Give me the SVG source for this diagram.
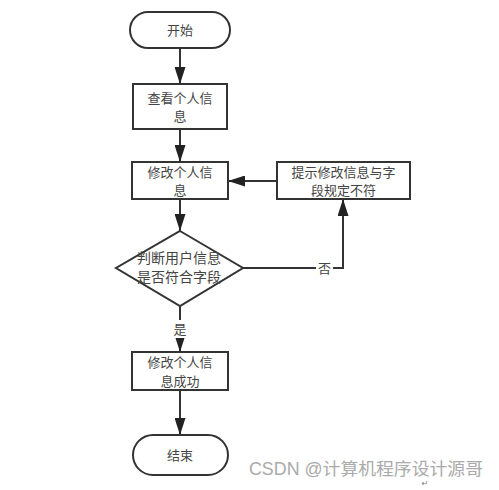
<svg xmlns="http://www.w3.org/2000/svg" width="499" height="490" viewBox="0 0 499 490">
<defs>
<marker id="arr" markerWidth="17" markerHeight="11" refX="17" refY="5.5" orient="auto" markerUnits="userSpaceOnUse">
<path d="M0,0 L17,5.5 L0,11 Z" fill="#222"/>
</marker>
</defs>
<style>
.shape{fill:#fff;stroke:#333;stroke-width:2}
.t{font-family:"Noto Sans CJK SC","Noto Sans",sans-serif;font-size:13px;fill:#444;text-anchor:middle}
.td{font-size:14px}
.conn{fill:none;stroke:#333;stroke-width:2}
.wm{font-family:"Liberation Sans","Noto Sans CJK SC",sans-serif;font-size:17.5px;fill:#aaa}
</style>
<rect width="499" height="490" fill="#fff"/>
<g id="connectors">
<line class="conn" x1="180" y1="48" x2="180" y2="84" marker-end="url(#arr)"/>
<line class="conn" x1="180" y1="129" x2="180" y2="162" marker-end="url(#arr)"/>
<line class="conn" x1="180" y1="199" x2="180" y2="231" marker-end="url(#arr)"/>
<line class="conn" x1="180" y1="306" x2="180" y2="352" marker-end="url(#arr)"/>
<line class="conn" x1="180" y1="390" x2="180" y2="435" marker-end="url(#arr)"/>
<line class="conn" x1="277" y1="181" x2="228" y2="181" marker-end="url(#arr)"/>
<polyline class="conn" points="243,268 343,268 343,199" marker-end="url(#arr)"/>
<rect x="172" y="320" width="16" height="18" fill="#fff"/>
<text class="t" x="180" y="334">是</text>
<rect x="316" y="259" width="17" height="18" fill="#fff"/>
<text class="t" x="324.5" y="273">否</text>
</g>
<g id="start">
<rect class="shape" x="130" y="12" width="100" height="36" rx="18"/>
<text class="t" x="180" y="35">开始</text>
</g>
<g id="view">
<rect class="shape" x="133" y="84" width="94" height="45"/>
<text class="t" x="180" y="103">查看个人信</text>
<text class="t" x="180" y="121">息</text>
</g>
<g id="modify">
<rect class="shape" x="132" y="162" width="96" height="37"/>
<text class="t" x="180" y="177">修改个人信</text>
<text class="t" x="180" y="195">息</text>
</g>
<g id="hint">
<rect class="shape" x="277" y="162" width="133" height="37"/>
<text class="t" x="343.5" y="177">提示修改信息与字</text>
<text class="t" x="343.5" y="195">段规定不符</text>
</g>
<g id="decide">
<polygon class="shape" points="180,231 243,268 180,306 116,268"/>
<text class="t td" x="179" y="263">判断用户信息</text>
<text class="t td" x="179" y="282">是否符合字段</text>
</g>
<g id="success">
<rect class="shape" x="132" y="352" width="96" height="38"/>
<text class="t" x="180" y="367">修改个人信</text>
<text class="t" x="180" y="386">息成功</text>
</g>
<g id="end">
<rect class="shape" x="133" y="435" width="95" height="40" rx="20"/>
<text class="t" x="180" y="460">结束</text>
</g>
<text class="wm" x="249" y="475" textLength="234" lengthAdjust="spacingAndGlyphs">CSDN @计算机程序设计源哥</text>
<text x="425" y="486" font-family="DejaVu Sans,sans-serif" font-size="8" fill="#777" text-anchor="middle">↵</text>
</svg>
